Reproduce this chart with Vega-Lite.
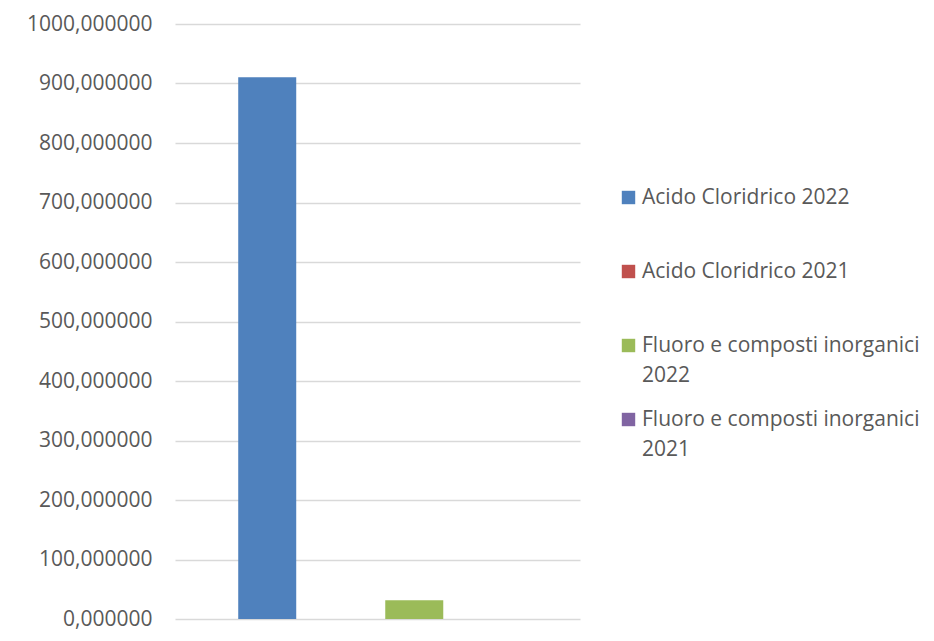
{
  "$schema": "https://vega.github.io/schema/vega-lite/v6.json",
  "width": 405,
  "height": 595,
  "autosize": {"type": "none"},
  "padding": {"left": 175, "top": 24, "right": 354, "bottom": 22},
  "background": "white",
  "config": {
    "view": {"stroke": null},
    "font": "Open Sans",
    "style": {"guide-label": {"lineHeight": 30}}
  },
  "data": {
    "values": [
      {"serie": "Acido Cloridrico 2022", "valore": 910.4},
      {"serie": "Acido Cloridrico 2021", "valore": 0},
      {"serie": "Fluoro e composti inorganici 2022", "valore": 31.4},
      {"serie": "Fluoro e composti inorganici 2021", "valore": 0}
    ]
  },
  "mark": {"type": "bar"},
  "encoding": {
    "x": {
      "field": "serie",
      "type": "nominal",
      "sort": ["Acido Cloridrico 2022", "Acido Cloridrico 2021", "Fluoro e composti inorganici 2022", "Fluoro e composti inorganici 2021"],
      "scale": {"paddingInner": 0.211, "paddingOuter": 0.86},
      "axis": null
    },
    "y": {
      "field": "valore",
      "type": "quantitative",
      "scale": {"domain": [0, 1000], "nice": false},
      "axis": {
        "title": null,
        "values": [0, 100, 200, 300, 400, 500, 600, 700, 800, 900, 1000],
        "labelExpr": "replace(format(datum.value, '.6f'), '.', ',')",
        "domain": false,
        "ticks": false,
        "labelPadding": 23,
        "labelFontSize": 21,
        "labelColor": "#595959",
        "labelFont": "Open Sans",
        "gridColor": "#d9d9d9",
        "gridWidth": 1.3
      }
    },
    "color": {
      "field": "serie",
      "type": "nominal",
      "scale": {
        "domain": ["Acido Cloridrico 2022", "Acido Cloridrico 2021", "Fluoro e composti inorganici 2022", "Fluoro e composti inorganici 2021"],
        "range": ["#4F81BD", "#C0504D", "#9BBB59", "#8064A2"]
      },
      "legend": {
        "title": null,
        "orient": "none",
        "legendX": 443,
        "legendY": 163,
        "symbolType": "square",
        "symbolSize": 180,
        "symbolStrokeWidth": 0,
        "labelFontSize": 21,
        "labelFont": "Open Sans",
        "labelColor": "#595959",
        "labelOffset": 3,
        "labelLimit": 400,
        "gridAlign": "all",
        "rowPadding": 22,
        "labelExpr": "length(datum.label) > 25 ? [slice(datum.label, 0, 28), slice(datum.label, 29)] : datum.label"
      }
    }
  }
}
